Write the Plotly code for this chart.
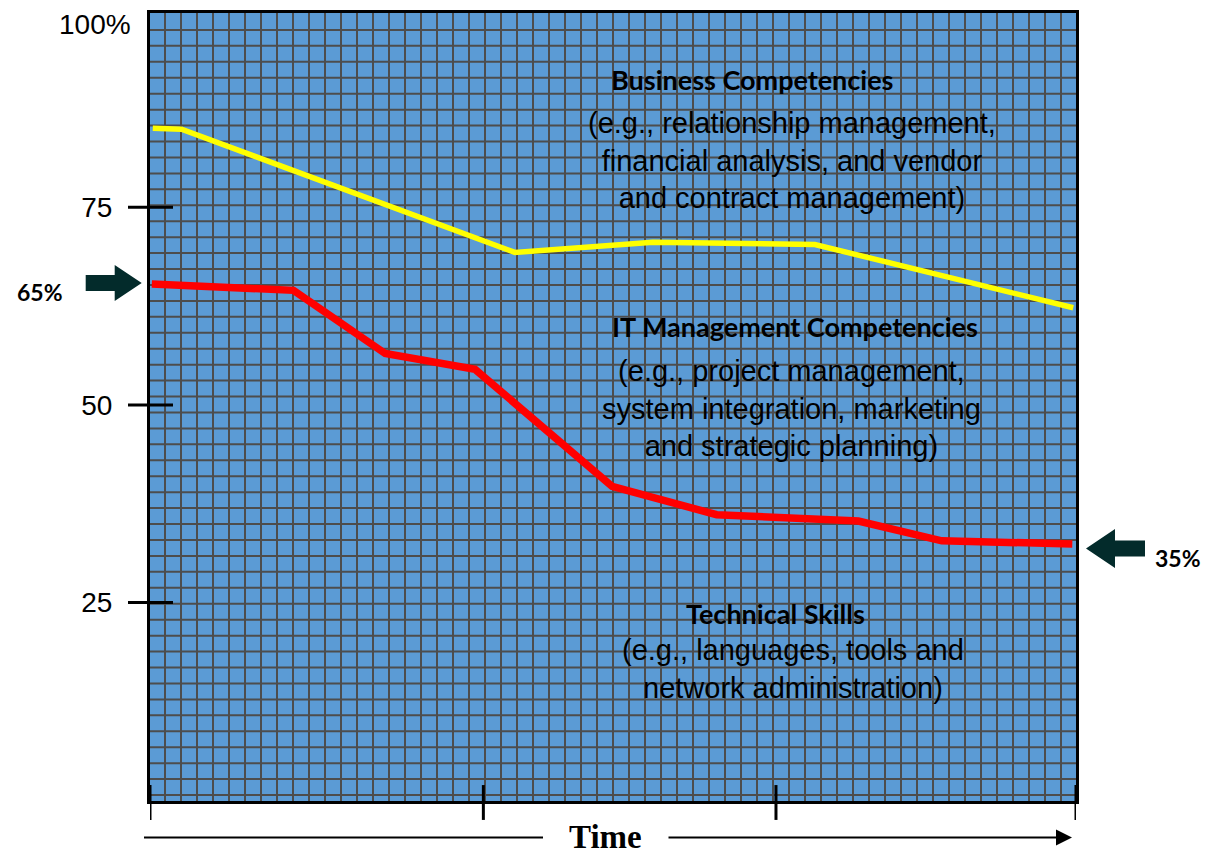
import plotly.graph_objects as go

# time runs 0..100 across the panel, share of skills in percent
time_ticks = [0, 36, 67.6, 100]
share_ticks = [25, 50, 75]
share_labels = ["25", "50", "75"]

# upper boundary: business competencies above it
business_x = [0.3, 3.4, 39.4, 54.3, 71.8, 99.7]
business_y = [85.0, 84.9, 69.3, 70.6, 70.3, 62.3]

# lower boundary: technical skills below it
technical_x = [0.2, 15.5, 25.4, 35.1, 49.9, 61.2, 76.5, 85.5, 99.6]
technical_y = [65.3, 64.5, 56.5, 54.5, 39.7, 36.1, 35.3, 32.8, 32.4]

start_label = "65%"
end_label = "35%"

regions = [
    ("Business Competencies",
     "(e.g., relationship management,<br>financial analysis, and vendor<br>and contract management)"),
    ("IT Management Competencies",
     "(e.g., project management,<br>system integration, marketing<br>and strategic planning)"),
    ("Technical Skills",
     "(e.g., languages, tools and<br>network administration)"),
]

# plot area in pixels
L, T, W, H = 150, 10, 926, 791
CELL = 16  # grid cell of the panel pattern, px

SANS = "Liberation Sans, Arial, sans-serif"
HEAD = "Lato, Calibri, sans-serif"
ARROW = "#032B2B"
GRID = "#4D4D4D"


def px(x):
    return (x - L) / W


def py(y):
    return (T + H - y) / H


def block_arrow(tip, yc, direction, head_len, head_half, shaft_len, shaft_half):
    # fat arrow outline in pixels, converted to paper coords
    d = direction
    pts = [
        (tip, yc),
        (tip - d * head_len, yc - head_half),
        (tip - d * head_len, yc - shaft_half),
        (tip - d * (head_len + shaft_len), yc - shaft_half),
        (tip - d * (head_len + shaft_len), yc + shaft_half),
        (tip - d * head_len, yc + shaft_half),
        (tip - d * head_len, yc + head_half),
    ]
    path = "M " + " L ".join(f"{px(x):.5f},{py(y):.5f}" for x, y in pts) + " Z"
    return dict(type="path", xref="paper", yref="paper", path=path,
                fillcolor=ARROW, line=dict(width=0))


fig = go.Figure()

fig.add_trace(go.Scatter(
    x=business_x, y=business_y, mode="lines",
    line=dict(color="#FFFF00", width=5.5), name="Business", hoverinfo="skip"
))
fig.add_trace(go.Scatter(
    x=technical_x, y=technical_y, mode="lines",
    line=dict(color="#FF0000", width=7.5), name="Technical", hoverinfo="skip"
))

shapes = []
# square grid pattern filling the panel (whole pixels so the lines stay crisp)
gx = L + 15
while gx < L + W - 2:
    shapes.append(dict(type="line", xref="paper", yref="paper", layer="below",
                       x0=px(gx), x1=px(gx), y0=0, y1=1, line=dict(color=GRID, width=2)))
    gx += CELL
gy = T + 17
while gy < T + H - 2:
    shapes.append(dict(type="line", xref="paper", yref="paper", layer="below",
                       x0=0, x1=1, y0=py(gy), y1=py(gy), line=dict(color=GRID, width=2)))
    gy += CELL

# ticks crossing the axis lines
for v in share_ticks:
    shapes.append(dict(type="line", xref="paper", yref="y", x0=-22 / W, x1=23 / W, y0=v, y1=v,
                       line=dict(color="black", width=3)))
for t in time_ticks:
    shapes.append(dict(type="line", xref="x", yref="paper", x0=t, x1=t, y0=-19 / H, y1=16 / H,
                       line=dict(color="black", width=3)))
# left part of the time arrow
shapes.append(dict(type="line", xref="paper", yref="paper", x0=px(144), x1=px(543),
                   y0=py(837.7), y1=py(837.7), line=dict(color="black", width=2)))
# block arrows marking start and end share
shapes.append(block_arrow(141.7, 281, 1, 27, 18, 29, 8))
shapes.append(block_arrow(1086, 547.5, -1, 29, 19.5, 30, 8))

annotations = []
head_pos = [(65.1, 91.2), (69.65, 59.9), (67.6, 23.6)]
body_pos = [(69.3, 80.9), (69.3, 49.6), (69.4, 16.6)]
for (head, body), (hx, hy), (bx, by) in zip(regions, head_pos, body_pos):
    annotations.append(dict(x=hx, y=hy, text=f"<b>{head}</b>", showarrow=False,
                            font=dict(family=HEAD, size=27, color="black")))
    annotations.append(dict(x=bx, y=by, text=body, showarrow=False,
                            font=dict(family=SANS, size=29, color="black")))

annotations += [
    dict(xref="paper", yref="paper", x=px(133), y=py(22), xanchor="right", yanchor="middle",
         text="100%", showarrow=False, font=dict(family=SANS, size=28, color="black")),
    dict(xref="paper", yref="paper", x=px(39.5), y=py(290), xanchor="center", yanchor="middle",
         text=f"<b>{start_label}</b>", showarrow=False, font=dict(family=HEAD, size=23, color="black")),
    dict(xref="paper", yref="paper", x=px(1177.5), y=py(557), xanchor="center", yanchor="middle",
         text=f"<b>{end_label}</b>", showarrow=False, font=dict(family=HEAD, size=23, color="black")),
    # time axis
    dict(xref="paper", yref="paper", x=px(605.5), y=py(837), xanchor="center", yanchor="middle",
         height=30, text="<b>Time</b>", showarrow=False,
         font=dict(family="Liberation Serif, Times New Roman, serif", size=33, color="black")),
    dict(xref="paper", yref="paper", x=px(1072), y=py(837.7), ax=-405, ay=0, text="",
         showarrow=True, arrowhead=2, arrowwidth=2, arrowsize=1.6, arrowcolor="black"),
]

fig.update_layout(
    width=1206, height=854,
    margin=dict(l=L, r=1206 - L - W, t=T, b=854 - T - H),
    plot_bgcolor="#5B9BD5",
    paper_bgcolor="white",
    showlegend=False,
    shapes=shapes,
    annotations=annotations,
    xaxis=dict(range=[0, 100], showgrid=False, zeroline=False, showticklabels=False, ticks="",
               showline=True, mirror=True, linecolor="black", linewidth=3),
    yaxis=dict(range=[-0.13, 99.6], tickvals=share_ticks, ticktext=share_labels, ticks="",
               showgrid=False, zeroline=False, showline=True, mirror=True,
               linecolor="black", linewidth=3, ticklabelstandoff=29,
               tickfont=dict(family=SANS, size=28, color="black")),
)

fig.write_html("out.html", config={"displayModeBar": False},
               post_script="document.body.style.margin='0';")
